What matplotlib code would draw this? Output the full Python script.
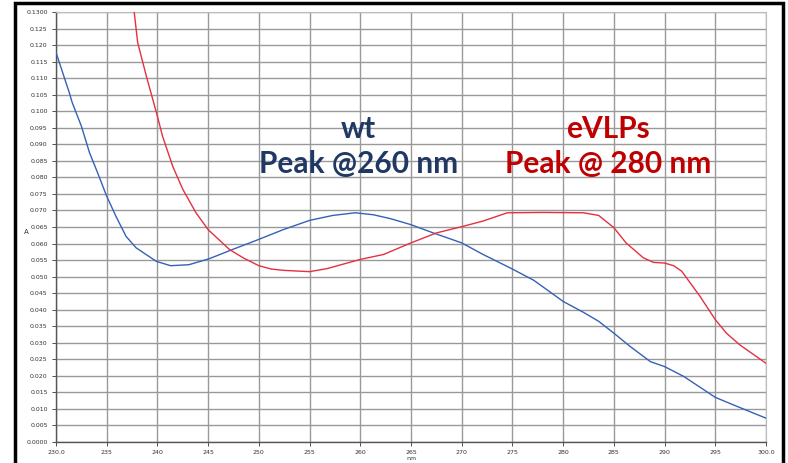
import numpy as np
import matplotlib.pyplot as plt
from matplotlib.patches import Rectangle

# wavelength (nm) / absorbance
wt_nm = [230.0, 231.3, 231.6, 232.5, 233.3, 234.1, 235.0, 235.9, 236.9, 237.9,
         239.9, 241.3, 243.1, 245.1, 247.4, 249.7, 252.4, 255.0, 257.3, 259.5,
         261.3, 263.0, 265.0, 267.2, 270.0, 272.1, 274.8, 277.1, 280.0, 282.0,
         283.5, 285.0, 286.6, 288.6, 290.0, 291.9, 295.0, 296.8, 300.0]
wt_abs = [0.1178, 0.1057, 0.1026, 0.0955, 0.0875, 0.0814, 0.0743, 0.0683, 0.0622, 0.0587,
          0.0546, 0.0533, 0.0536, 0.0554, 0.0582, 0.0609, 0.0642, 0.0670, 0.0685, 0.0693,
          0.0687, 0.0675, 0.0657, 0.0632, 0.0602, 0.0567, 0.0526, 0.0489, 0.0425, 0.0392,
          0.0365, 0.0329, 0.0289, 0.0243, 0.0228, 0.0198, 0.0135, 0.0112, 0.0072]

evlp_nm = [237.6, 238.05, 238.9, 239.9, 240.5, 241.5, 242.5, 243.8, 245.0, 247.1,
           248.5, 250.0, 251.2, 252.4, 255.0, 256.7, 260.0, 262.3, 265.0, 267.5,
           270.0, 272.1, 274.5, 278.0, 282.0, 283.5, 285.0, 286.2, 287.9, 288.9,
           290.0, 290.9, 291.7, 293.5, 295.0, 296.1, 297.4, 300.0]
evlp_abs = [0.1330, 0.1208, 0.1107, 0.0996, 0.0925, 0.0834, 0.0764, 0.0693, 0.0642, 0.0582,
            0.0556, 0.0533, 0.0523, 0.0519, 0.0515, 0.0524, 0.0552, 0.0567, 0.0602, 0.0632,
            0.0651, 0.0668, 0.0693, 0.0694, 0.0693, 0.0685, 0.0648, 0.0602, 0.0557, 0.0543,
            0.0541, 0.0533, 0.0516, 0.0440, 0.0370, 0.0329, 0.0294, 0.0238]

x_ticks = list(range(230, 301, 5))
y_ticks = [i * 0.005 for i in range(27)]


def ylab(v):
    if abs(v) < 1e-9:
        return "0.0000"
    if abs(v - 0.13) < 1e-9:
        return "0.1300"
    return "%.3f" % v


def xlab(v):
    if v in (230, 300):
        return "%.1f" % v
    return "%d" % v


fig = plt.figure(figsize=(7.88, 4.63), dpi=100)
ax = fig.add_axes([56/788, 1 - 442/463, 710/788, 430/463])

ax.plot(wt_nm, wt_abs, color="#3561b5", lw=1.0, zorder=3)
ax.plot(evlp_nm, evlp_abs, color="#e4303f", lw=1.0, zorder=3)

ax.set_xlim(230, 300)
ax.set_ylim(0, 0.13)
ax.set_xticks(x_ticks)
ax.set_xticklabels([xlab(v) for v in x_ticks])
ax.set_yticks(y_ticks)
ax.set_yticklabels([ylab(v) for v in y_ticks])
ax.tick_params(labelsize=4.5, length=3, width=0.6, colors="#333333", pad=3)
ax.grid(True, color="#999999", lw=1.0)
ax.set_axisbelow(True)
for s in ["top", "right"]:
    ax.spines[s].set_color("#bbbbbb")
for s in ["left", "bottom"]:
    ax.spines[s].set_color("#555555")
    ax.spines[s].set_linewidth(1.0)

fig.text(26/788, 1 - 232/463, "A", fontsize=5, color="#333333", ha="center", va="center")
fig.text(411/788, 1 - 458/463, "nm", fontsize=4.5, color="#333333", ha="center", va="center")

ax.text(259.8, 0.0893, "wt\nPeak @260 nm", color="#1f3864", fontsize=21.5,
        fontfamily="Lato", fontweight="bold", ha="center", va="center", linespacing=1.3)
ax.text(284.4, 0.0893, "eVLPs\nPeak @ 280 nm", color="#c00000", fontsize=21.5,
        fontfamily="Lato", fontweight="bold", ha="center", va="center", linespacing=1.3)

# black frame around the chart
fig.patches.append(Rectangle((15/788, -0.05), 768/788, 1.05 - 3/463, transform=fig.transFigure,
                             fill=False, edgecolor="black", lw=2.5))

fig.savefig("out.png", dpi=100)
